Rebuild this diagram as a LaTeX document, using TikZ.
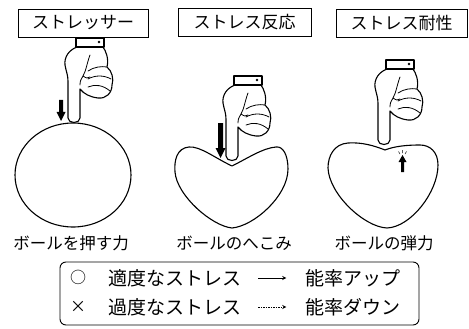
\documentclass[tikz,border=0pt]{standalone}
\usepackage{fontspec}
\newfontfamily\jp{Noto Sans CJK JP}
\begin{document}
\begin{tikzpicture}[x=1pt,y=-1pt,
  outline/.style={line width=1.1pt, line join=round, line cap=round},
  thin line/.style={line width=0.8pt, line cap=round},
  titlebox/.style={draw, line width=0.8pt, minimum height=28pt, inner sep=0pt,
    font=\jp\fontsize{17}{17}\selectfont},
  caption/.style={font=\jp\fontsize{16.5}{17}\selectfont, inner sep=0pt},
  rowtext/.style={font=\jp\fontsize{19}{19}\selectfont, inner sep=0pt, anchor=west},
  pusharrow/.style={fill=black},
  % pointing hand, origin at the fingertip
  hand/.pic={
    \filldraw[fill=white, outline]
      (3,-76) .. controls (-5,-73) and (-10,-66) .. (-9,-58)
      .. controls (-8,-52) and (-6,-48) .. (-6,-42)
      -- (-6,-5) .. controls (-6,1) and (6,1) .. (6,-5)
      -- (6,-34)
      .. controls (10,-29) and (16,-26) .. (24,-25)
      .. controls (32,-24) and (38,-30) .. (38,-38)
      .. controls (40,-44) and (38,-52) .. (33,-56)
      .. controls (35,-64) and (32,-72) .. (29,-76) -- cycle;
    % thumb
    \draw[thin line] (16,-68) .. controls (13,-60) and (12,-52) .. (9,-47)
      .. controls (7,-44) and (6,-42) .. (6,-38);
    \draw[thin line] (9,-47) .. controls (12,-45) and (14,-44) .. (16,-46);
    % creases between the curled fingers
    \draw[thin line] (14,-52) .. controls (20,-56) and (27,-57) .. (33,-56);
    \draw[thin line] (14,-44) .. controls (21,-48) and (30,-48) .. (37,-44);
    \draw[thin line] (14,-36) .. controls (21,-39) and (29,-38) .. (36,-32);
    % cuff
    \filldraw[fill=white, outline] (2,-85) rectangle (30,-76);
    \fill (25,-81) circle (1.3);
  }
]
\useasboundingbox (0,0) rectangle (469,329);

% ---- titles
\node[titlebox, minimum width=130pt] (t1) at (83,23) {ストレッサー};
\node[titlebox, minimum width=133pt] (t2) at (244.5,22.5) {ストレス反応};
\node[titlebox, minimum width=131pt] (t3) at (401.5,23) {ストレス耐性};

% ---- ball pushed (round)
\draw[outline] (73,175) ellipse [x radius=58, y radius=52];
\pic at (74,123) {hand};
\fill[pusharrow] (59,100) -- (63,100) -- (63,112) -- (65.5,112) -- (61,121)
  -- (56.5,112) -- (59,112) -- cycle;

% ---- ball dented
\draw[outline] (232,166) .. controls (215,158) and (200,146) .. (189,147)
  .. controls (177,148) and (174,160) .. (175,172)
  .. controls (177,196) and (212,226) .. (232,228)
  .. controls (254,226) and (288,196) .. (288,169)
  .. controls (288,155) and (283,146) .. (276,147)
  .. controls (263,148) and (248,158) .. (232,166);
\pic at (232,161) {hand};
\fill[pusharrow] (218,123) -- (223,123) -- (223,148) -- (225.5,148) -- (220.5,158)
  -- (215.5,148) -- (218,148) -- cycle;

% ---- ball springing back
\draw[outline] (385,150) .. controls (375,146) and (362,142) .. (348,143)
  .. controls (334,144) and (328,156) .. (328,168)
  .. controls (329,194) and (364,227) .. (387,228)
  .. controls (411,227) and (438,192) .. (438,165)
  .. controls (438,152) and (430,145) .. (420,145)
  .. controls (408,145) and (395,146) .. (385,150);
\pic at (384,145) {hand};
\fill[pusharrow] (401,172) -- (404,172) -- (404,162) -- (406.5,162) -- (402.5,155)
  -- (398.5,162) -- (401,162) -- cycle;
\draw[line width=0.5pt] (402.5,153) -- (402.5,150) (400,154) -- (398.5,151.5)
  (405,154) -- (406.5,151.5);

% ---- captions
\node[caption] (c1) at (71,243) {ボールを押す力};
\node[caption] (c2) at (234,243) {ボールのへこみ};
\node[caption] (c3) at (384,243) {ボールの弾力};

% ---- legend
\draw[line width=0.9pt, rounded corners=6pt] (60,262) rectangle (419,325);
\node[font=\jp\fontsize{16}{16}\selectfont, inner sep=0pt] (m1) at (78,277) {○};
\node[font=\jp\fontsize{16}{16}\selectfont, inner sep=0pt] (m2) at (78,307) {×};
\node[rowtext] (a1) at (108,278) {適度なストレス};
\node[rowtext] (a2) at (108,307) {過度なストレス};
\node[rowtext] (b1) at (305,278) {能率アップ};
\node[rowtext] (b2) at (305,307) {能率ダウン};
\draw[-stealth, line width=0.9pt] (a1.east) ++(17,0) coordinate (s1) -- ++(28,0) coordinate (e1);
\draw[-stealth, line width=0.9pt, dash pattern=on 1.5pt off 1pt] (a2.east) ++(17,0) coordinate (s2) -- ++(28,0) coordinate (e2);
\end{tikzpicture}
\end{document}
